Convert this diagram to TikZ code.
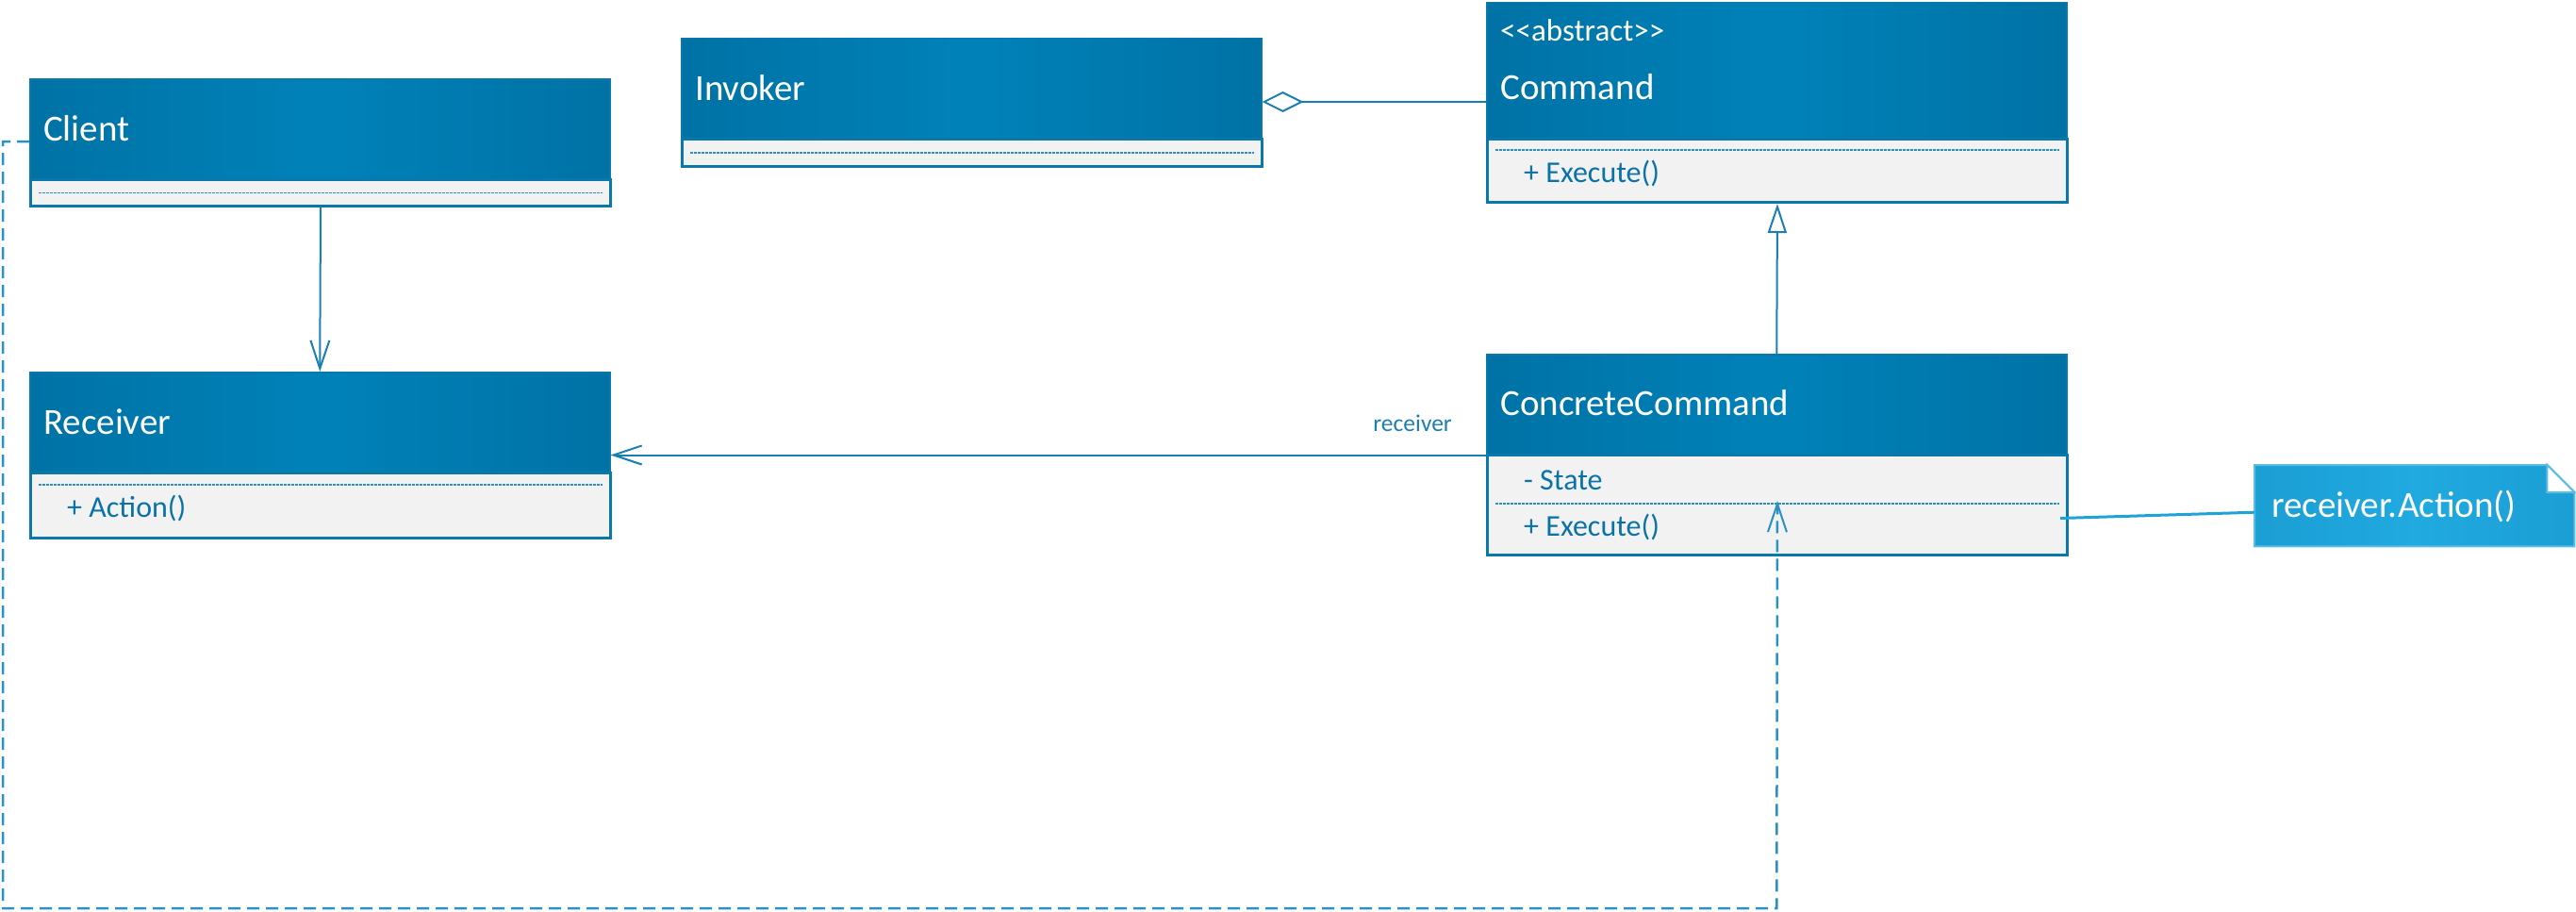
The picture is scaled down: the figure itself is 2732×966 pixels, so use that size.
\documentclass[tikz,border=0pt]{standalone}
\usepackage{fontspec}
\setmainfont{Carlito}
\usetikzlibrary{arrows.meta,calc}
\definecolor{hdrL}{HTML}{0072A5}
\definecolor{hdrM}{HTML}{0082B9}
\definecolor{hdrB}{HTML}{0A78AB}
\definecolor{bodyF}{HTML}{F2F2F2}
\definecolor{memC}{HTML}{0B72A8}
\definecolor{sepC}{HTML}{2A90C4}
\definecolor{conC}{HTML}{1A7FB5}
\definecolor{depC}{HTML}{2991C6}
\definecolor{noteL}{HTML}{1B9ED4}
\definecolor{noteM}{HTML}{20AAE0}
\definecolor{noteB}{HTML}{5BBCE4}
\definecolor{noteC}{HTML}{1EA3D9}
\begin{document}
\begin{tikzpicture}[x=1pt,y=-1pt,
  hdr/.style={rectangle, anchor=north west, inner sep=0pt, minimum width=615pt,
    draw=hdrB, line width=1.5pt, left color=hdrL, right color=hdrL, middle color=hdrM},
  bdy/.style={rectangle, anchor=north west, inner sep=0pt, minimum width=615pt,
    fill=bodyF, draw=hdrB, line width=3pt},
  ttl/.style={anchor=base west, inner sep=0pt, text=white, font=\fontsize{39}{47}\selectfont},
  stereo/.style={anchor=base west, inner sep=0pt, text=white, font=\fontsize{33}{40}\selectfont},
  mem/.style={anchor=base west, inner sep=0pt, text=memC, font=\fontsize{32}{38}\selectfont},
  lbl/.style={anchor=base east, inner sep=0pt, text=conC, font=\fontsize{25.5}{30}\selectfont},
  sep/.style={draw=sepC, line width=1.5pt, dash pattern=on 2.5pt off 1.5pt},
  assoc/.style={draw=conC, line width=2pt, -{Straight Barb[length=30pt,width=20pt,line width=2pt]}},
  aggr/.style={draw=conC, line width=2pt, {Diamond[open,length=44pt,width=22pt,line width=2pt,fill=white]}-},
  gen/.style={draw=conC, line width=2pt, -{Triangle[open,length=31pt,width=20pt,line width=2pt,fill=white]}},
  dep/.style={draw=depC, line width=2.5pt, dash pattern=on 13pt off 7pt,
    -{Straight Barb[length=30pt,width=20pt,line width=2pt]}},
  notel/.style={draw=noteC, line width=3pt},
  notebox/.style={rectangle, anchor=north west, inner sep=0pt, minimum width=339pt, minimum height=86pt}
]
\useasboundingbox (0,0) rectangle (2732,966);

% Client
\node[bdy, minimum height=28pt] (clientb) at (31,189) {};
\node[hdr, minimum height=106pt] (clienth) at (31,83) {};
\node[ttl] (clientt) at ($(clienth.north west)+(15,66)$) {Client};
\draw[sep] ($(clientb.west)+(10,0)$) -- ($(clientb.east)+(-10,0)$);

% Invoker
\node[bdy, minimum height=29pt] (invb) at (722,146) {};
\node[hdr, minimum height=106pt] (invh) at (722,40) {};
\node[ttl] (invt) at ($(invh.north west)+(15,66)$) {Invoker};
\draw[sep] ($(invb.west)+(10,0)$) -- ($(invb.east)+(-10,0)$);

% Command
\node[bdy, minimum height=67pt] (cmdb) at (1576,146) {};
\node[hdr, minimum height=144pt] (cmdh) at (1576,2) {};
\node[stereo] (cmdst) at ($(cmdh.north west)+(15,42)$) {<\kern0pt<abstract>\kern0pt>};
\node[ttl] (cmdt) at ($(cmdh.north west)+(15,103)$) {Command};
\draw[sep] ($(cmdb.north west)+(10,13)$) -- ($(cmdb.north east)+(-10,13)$);
\node[mem] (cmdm) at ($(cmdb.north west)+(40,47)$) {+ Execute()};

% Receiver
\node[bdy, minimum height=69pt] (recvb) at (31,500) {};
\node[hdr, minimum height=106pt] (recvh) at (31,394) {};
\node[ttl] (recvt) at ($(recvh.north west)+(15,66)$) {Receiver};
\draw[sep] ($(recvb.north west)+(10,14)$) -- ($(recvb.north east)+(-10,14)$);
\node[mem] (recvm) at ($(recvb.north west)+(40,48)$) {+ Action()};

% ConcreteCommand
\node[bdy, minimum height=106pt] (ccb) at (1576,481) {};
\node[hdr, minimum height=106pt] (cch) at (1576,375) {};
\node[ttl] (cct) at ($(cch.north west)+(15,65)$) {ConcreteCommand};
\node[mem] (ccs) at ($(ccb.north west)+(40,38)$) {- State};
\draw[sep] ($(ccb.north west)+(10,53)$) -- ($(ccb.north east)+(-10,53)$);
\node[mem] (ccm) at ($(ccb.north west)+(40,87)$) {+ Execute()};

% Note
\node[notebox] (note) at (2391,493) {};
\path[draw=noteB, line width=2pt, left color=noteL, right color=noteL, middle color=noteM]
  (note.north west) -- ($(note.north east)+(-29,0)$) -- ($(note.north east)+(0,29)$)
  -- (note.south east) -- (note.south west) -- cycle;
\path[draw=noteB, line width=2pt, fill=white]
  ($(note.north east)+(-29,0)$) -- ($(note.north east)+(-29,29)$) -- ($(note.north east)+(0,29)$) -- cycle;
\node[ttl] (notet) at ($(note.north west)+(18,55)$) {receiver.Action()};

% Connectors
\draw[assoc] (clientb.south) -- (recvh.north);
\coordinate (aggy) at (0,108);
\draw[aggr] (invh.east |- aggy) -- (cmdh.west |- aggy);
\draw[gen] (cch.north) -- (cmdb.south);
\draw[assoc] (cch.south west) -- (recvh.east |- cch.south west);
\node[lbl] (lblrecv) at ($(cch.north west)+(-36,82)$) {receiver};

\coordinate (cl) at (3,150);
\coordinate (dbl) at (3,963);
\coordinate (deptip) at ($(ccb.north)+(0,50)$);
\draw[dep] (clienth.west |- cl) -- (cl) -- (dbl) -- (dbl -| cch.north) -- (deptip);

\coordinate (ccanchor) at ($(ccb.east)+(-9,14)$);
\draw[notel] (ccanchor) -- ($(note.west)+(0,7)$);
\end{tikzpicture}
\end{document}
